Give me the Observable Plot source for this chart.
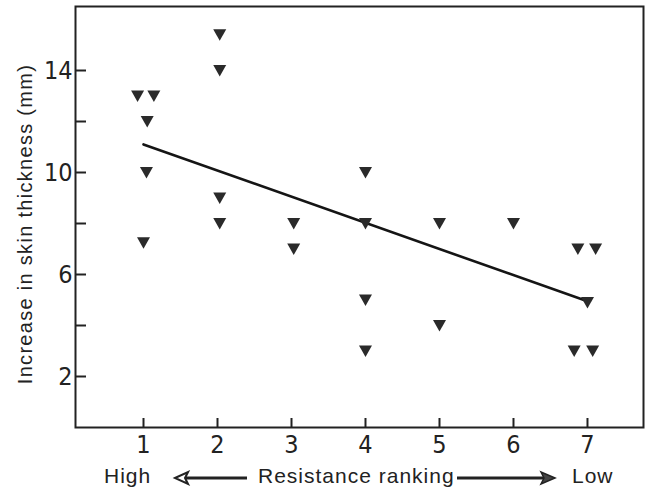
<!DOCTYPE html>
<html>
<head>
<meta charset="utf-8">
<script src="https://cdn.jsdelivr.net/npm/d3@7"></script>
<script src="https://cdn.jsdelivr.net/npm/@observablehq/plot@0.6"></script>
<style>
  html, body { margin: 0; padding: 0; background: #fff; }
  #wrap { position: relative; width: 647px; height: 488px; overflow: hidden; }
  #ylab { position: absolute; left: 25px; top: 224px; transform: translate(-50%, -50%) rotate(-90deg);
          white-space: nowrap; font-family: "Liberation Sans", Arial, sans-serif; font-size: 20px;
          letter-spacing: 1.3px; color: #222; }
  #bottom { position: absolute; left: 0; top: 455px; }
</style>
</head>
<body>
<div id="wrap">
  <div id="chart"></div>
  <div id="ylab">Increase in skin thickness (mm)</div>
  <svg id="bottom" width="647" height="33"></svg>
</div>
<script>
// Resistance ranking (with slight horizontal offsets as drawn) and skin-thickness increase (mm)
const ranking  = [0.92, 1.14, 1.05, 1.04, 1.0,  2.03, 2.03, 2.03, 2.03,  3.03, 3.03,  4.0, 4.0, 4.0, 4.0,  5.0, 5.0,  6.0,  6.87, 7.11, 7.0, 6.82, 7.07];
const increase = [13,   13,   12,   10,   7.25, 15.4, 14,   9,    8,     8,    7,     10,  8,   5,   3,    8,   4,    8,    7,    7,    4.9, 3,    3];
// fitted line end points
const fitX = [1, 7];
const fitY = [11.1, 4.95];
// tick values
const xTicks = [1, 2, 3, 4, 5, 6, 7];
const yTickMarks = [2, 4, 6, 8, 10, 12, 14];
const yTickLabels = [2, 6, 10, 14];

const points = ranking.map((r, i) => ({r, v: increase[i]}));
const fit = fitX.map((x, i) => ({x, y: fitY[i]}));

const triangleDown = {
  draw(ctx) {
    ctx.moveTo(-6.5, -5.5);
    ctx.lineTo(6.5, -5.5);
    ctx.lineTo(0, 6);
    ctx.closePath();
  }
};

const W = 647, H = 488, mL = 75, mR = 4, mT = 6, mB = 61;
const frameW = W - mL - mR, frameH = H - mT - mB;

const chart = Plot.plot({
  width: W, height: H,
  marginLeft: mL, marginRight: mR, marginTop: mT, marginBottom: mB,
  style: { fontFamily: "'Liberation Sans Narrow', 'DejaVu Sans Condensed', sans-serif", fontSize: "25px", color: "#222", background: "transparent" },
  x: { domain: [0.081, 7.757] },
  y: { domain: [0, 16.51] },
  marks: [
    Plot.frame({ stroke: "#222", strokeWidth: 2 }),
    Plot.tickY(yTickMarks, { y: d => d, stroke: "#222", strokeWidth: 2, insetRight: frameW - 11 }),
    Plot.tickX(xTicks, { x: d => d, stroke: "#222", strokeWidth: 2, insetTop: frameH - 9 }),
    Plot.axisY({ ticks: yTickLabels, tickSize: 0, tickPadding: 3, label: null }),
    Plot.axisX({ ticks: xTicks, tickSize: 0, tickPadding: 8, label: null, tickFormat: d => String(d) }),
    Plot.line(fit, { x: "x", y: "y", stroke: "#151515", strokeWidth: 2.6 }),
    Plot.dot(points, { x: "r", y: "v", symbol: triangleDown, fill: "#2a2a2a", stroke: "none" })
  ]
});
document.getElementById("chart").appendChild(chart);

// bottom annotation: High <-- Resistance ranking --> Low
const b = d3.select("#bottom");
const fontB = "'Liberation Sans', Arial, sans-serif";
const bl = 28; // baseline within the bottom svg
const ay = 23; // arrow y
function txt(x, s, anchor) {
  b.append("text").attr("x", x).attr("y", bl).attr("text-anchor", anchor)
    .attr("font-family", fontB).attr("font-size", 21).attr("letter-spacing", "1px")
    .attr("fill", "#222").text(s);
}
txt(104, "High", "start");
txt(258, "Resistance ranking", "start");
txt(572, "Low", "start");
// left arrow
b.append("line").attr("x1", 180).attr("x2", 247).attr("y1", ay).attr("y2", ay).attr("stroke", "#222").attr("stroke-width", 3);
b.append("path").attr("d", `M175,${ay} L188,${ay-6} L185,${ay} L188,${ay+6} Z`).attr("fill", "#fff").attr("stroke", "#222").attr("stroke-width", 2).attr("stroke-linejoin", "miter");
// right arrow
b.append("line").attr("x1", 457).attr("x2", 545).attr("y1", ay).attr("y2", ay).attr("stroke", "#222").attr("stroke-width", 3);
b.append("path").attr("d", `M555,${ay} L541,${ay-6} L544,${ay} L541,${ay+6} Z`).attr("fill", "#444").attr("stroke", "#222").attr("stroke-width", 1.5);
</script>
</body>
</html>
